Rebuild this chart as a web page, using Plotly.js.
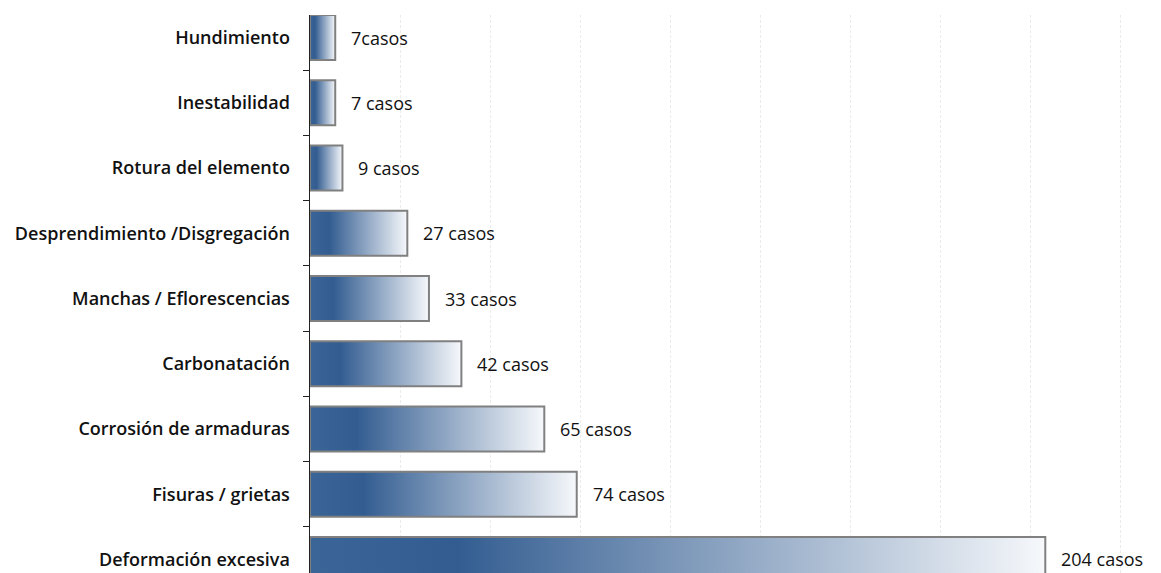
<!DOCTYPE html>
<html>
<head>
<meta charset="utf-8">
<script src="https://cdn.plot.ly/plotly-3.0.1.min.js"></script>
<style>html,body{margin:0;padding:0;background:#fff;}#chart{width:1161px;height:573px;}</style>
</head>
<body>
<div id="chart"></div>
<script>
// Categories, top to bottom as shown
const categories = [
  'Hundimiento',
  'Inestabilidad',
  'Rotura del elemento',
  'Desprendimiento /Disgregación',
  'Manchas / Eflorescencias',
  'Carbonatación',
  'Corrosión de armaduras',
  'Fisuras / grietas',
  'Deformación excesiva'
];
const casos = [7, 7, 9, 27, 33, 42, 65, 74, 204];
const valueLabels = ['7casos', '7 casos', '9 casos', '27 casos', '33 casos', '42 casos', '65 casos', '74 casos', '204 casos'];

const bottomToTop = categories.slice().reverse();

const trace = {
  type: 'bar',
  orientation: 'h',
  x: casos,
  y: categories,
  marker: { color: '#345f92', line: { color: '#808080', width: 2 } },
  hoverinfo: 'skip',
  showlegend: false
};

const annotations = categories.map((c, i) => ({
  x: casos[i], y: c, xref: 'x', yref: 'y',
  text: valueLabels[i], showarrow: false,
  xanchor: 'left', yanchor: 'middle', xshift: 14,
  font: { family: 'Open Sans, sans-serif', size: 18, color: '#111111' }
}));

const layout = {
  width: 1161, height: 573,
  margin: { l: 310, r: 0, t: 15, b: 0, pad: 0 },
  paper_bgcolor: '#ffffff', plot_bgcolor: '#ffffff',
  bargap: 0.31,
  xaxis: {
    range: [0, 236.1], tick0: 0, dtick: 25,
    showticklabels: false, ticks: '',
    showgrid: true, gridcolor: '#ebebeb', griddash: '3px,2px', gridwidth: 1,
    zeroline: false, showline: false
  },
  yaxis: {
    type: 'category', categoryorder: 'array', categoryarray: bottomToTop,
    range: [-0.207, 8.345],
    showline: true, linecolor: '#222222', linewidth: 1.5,
    ticks: 'outside', tickson: 'boundaries', ticklen: 6, tickcolor: '#222222', tickwidth: 1,
    ticklabelstandoff: 15,
    showgrid: false, zeroline: false,
    tickfont: { family: 'Open Sans, sans-serif', size: 18, color: '#111111', weight: 600 }
  },
  annotations: annotations
};

function applyGradient(gd) {
  const svg = gd.querySelector('.main-svg');
  if (!svg) return;
  let defs = svg.querySelector('defs');
  const ns = 'http://www.w3.org/2000/svg';
  if (!svg.querySelector('#barGrad')) {
    const lg = document.createElementNS(ns, 'linearGradient');
    lg.setAttribute('id', 'barGrad');
    lg.setAttribute('x1', '0'); lg.setAttribute('y1', '0');
    lg.setAttribute('x2', '1'); lg.setAttribute('y2', '0');
    [['0', '#3b6597'], ['0.2', '#335d91'], ['1', '#f6f8fb']].forEach(s => {
      const st = document.createElementNS(ns, 'stop');
      st.setAttribute('offset', s[0]);
      st.setAttribute('stop-color', s[1]);
      lg.appendChild(st);
    });
    defs.appendChild(lg);
  }
  gd.querySelectorAll('.trace.bars .point path').forEach(p => {
    p.style.fill = 'url(#barGrad)';
  });
}

const gd = document.getElementById('chart');
Plotly.newPlot(gd, [trace], layout, { displayModeBar: false, staticPlot: true }).then(applyGradient);
</script>
</body>
</html>
